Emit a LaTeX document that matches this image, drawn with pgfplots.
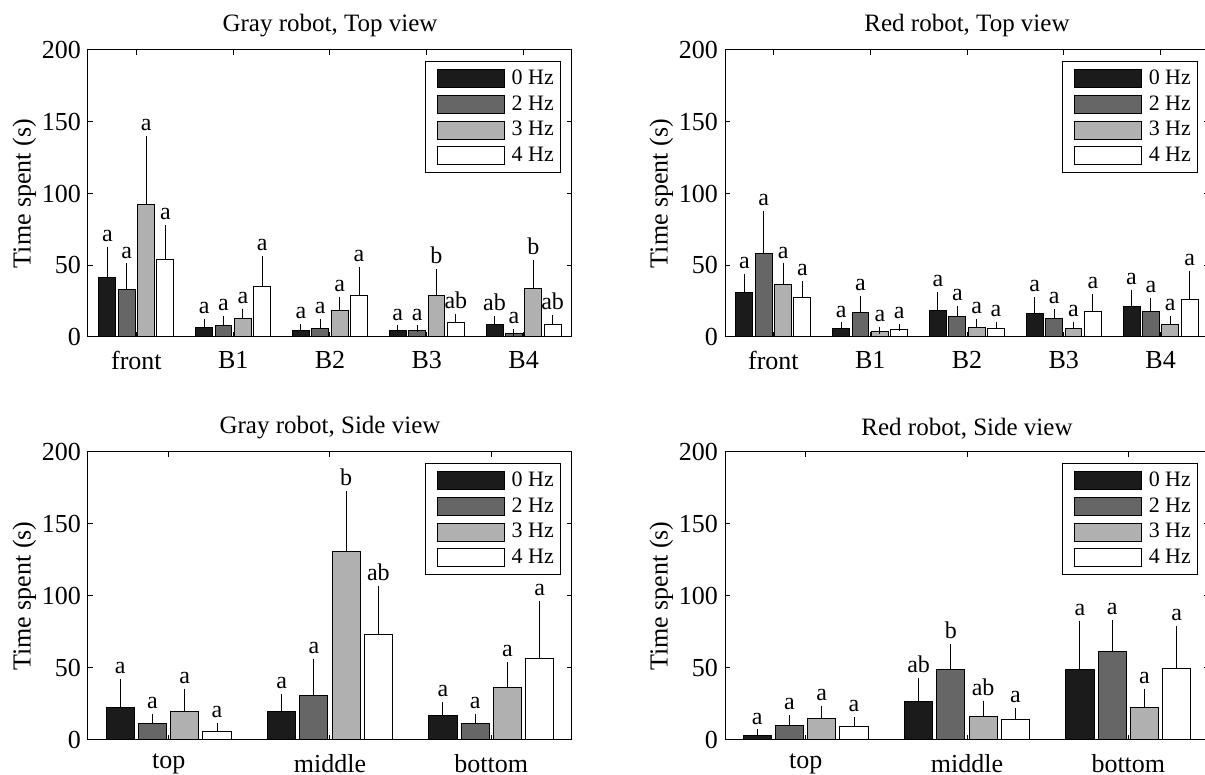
\documentclass[border=0pt]{standalone}
\usepackage{pgfplots}
\usepackage{pgfplotstable}
\usepackage{fontspec}
\setmainfont{Liberation Serif}
\pgfplotsset{compat=1.18}

\definecolor{c0}{HTML}{1B1B1B}
\definecolor{c2}{HTML}{666666}
\definecolor{c3}{HTML}{B0B0B0}
\definecolor{c4}{HTML}{FFFFFF}

% x  value/top/label for 0, 2, 3, 4 Hz
\pgfplotstableread{
x v0 t0 l0 v2 t2 l2 v3 t3 l3 v4 t4 l4
1 41.3 60.6 a 33.1 49.0 a 92.3 137.6 a 54.0 75.6 a
2 6.6 10.1 a 8.0 12.2 a 13.0 17.6 a 35.1 54.4 a
3 4.4 7.0 a 6.0 10.2 a 18.8 25.8 a 28.8 46.4 a
4 4.2 5.8 a 4.2 5.8 a 28.6 45.1 b 10.0 13.9 ab
5 8.8 12.2 ab 2.5 3.2 a 33.9 51.3 b 9.0 13.0 ab
}\tabTL
\pgfplotstableread{
x v0 t0 l0 v2 t2 l2 v3 t3 l3 v4 t4 l4
1 30.9 42.0 a 58.3 85.7 a 36.7 49.0 a 27.6 36.7 a
2 6.0 7.9 a 16.9 26.5 a 3.5 4.6 a 4.9 6.7 a
3 18.6 29.0 a 14.6 19.3 a 6.5 10.2 a 6.0 8.4 a
4 16.5 25.5 a 13.0 17.4 a 5.6 8.4 a 17.6 27.6 a
5 21.4 30.7 a 17.6 24.9 a 8.4 12.5 a 25.8 43.9 a
}\tabTR
\pgfplotstableread{
x v0 t0 l0 v2 t2 l2 v3 t3 l3 v4 t4 l4
1 22.3 40.0 a 11.4 15.8 a 19.8 33.0 a 5.6 9.5 a
2 19.5 30.0 a 30.7 54.2 a 131.1 170.7 b 73.2 104.9 ab
3 16.7 24.4 a 11.2 15.8 a 36.3 51.9 a 56.5 94.2 a
}\tabBL
\pgfplotstableread{
x v0 t0 l0 v2 t2 l2 v3 t3 l3 v4 t4 l4
1 3.0 5.1 a 9.8 15.1 a 14.9 21.6 a 9.5 13.7 a
2 26.7 40.9 ab 49.3 64.2 b 16.3 24.9 ab 14.0 20.0 a
3 48.8 80.2 a 61.2 80.9 a 22.5 33.3 a 49.7 76.7 a
}\tabBR

\pgfplotsset{
  mylegend/.style={legend image code/.code={\path[draw=none,fill=none] (0pt,0pt) (40pt,0pt);\draw[##1] (5pt,-4.5pt) rectangle (38.5pt,4.5pt);}},
}

% #1 table, #2 column suffix, #3 x offset, #4 fill colour
\newcommand{\series}[4]{%
  \addplot[ybar, bar width=0.175, bar shift=0pt, fill=#4, draw=black, line width=0.5pt,
    mylegend,
    error bars/.cd, y dir=plus, y explicit,
    error bar style={line width=0.5pt, black},
    error mark options={line width=0.5pt, mark size=1.6pt, black}]
    table[x expr=\thisrow{x}#3, y=v#2, y error expr=\thisrow{t#2}-\thisrow{v#2}] {#1};
  \addplot[forget plot, draw=none, mark=none, nodes near coords, point meta=explicit symbolic,
    nodes near coords style={anchor=south, font=\fontsize{12}{14}\selectfont, inner sep=4pt}]
    table[x expr=\thisrow{x}#3, y=t#2, meta=l#2] {#1};
}
\newcommand{\allseries}[1]{%
  \series{#1}{0}{-0.3}{c0}
  \series{#1}{2}{-0.1}{c2}
  \series{#1}{3}{+0.1}{c3}
  \series{#1}{4}{+0.3}{c4}
  \legend{0 Hz, 2 Hz, 3 Hz, 4 Hz}
}

\pgfplotsset{
  panel/.style={
    scale only axis, width=242pt,
    ymin=0, ymax=200, ytick={0,50,100,150,200},
    tick align=inside, tick pos=both, major tick length=2.5pt,
    axis line style={line width=0.5pt},
    every tick/.style={black, line width=0.5pt},
    font=\fontsize{13}{15.6}\selectfont,
    /pgf/number format/assume math mode=true,
    ylabel={Time spent (s)},
    ylabel shift=-4pt,
    xticklabel style={yshift=-3.5pt},
    title style={yshift=-3pt, font=\fontsize{12.5}{15}\selectfont},
    legend style={at={(1,1)}, anchor=north east, xshift=-5.5pt, yshift=-5.5pt,
      font=\fontsize{11}{13}\selectfont, line width=0.5pt, draw=black,
      inner xsep=1.3pt, inner ysep=2.3pt, row sep=0pt},
    legend cell align=left,
  },
  five/.style={xmin=0.5, xmax=5.5, xtick={1,2,3,4,5}, xticklabels={front,B1,B2,B3,B4}, height=143.5pt},
  three/.style={xmin=0.5, xmax=3.5, xtick={1,2,3}, xticklabels={top,middle,bottom}, height=144pt},
}

\begin{document}
\begin{tikzpicture}
\begin{axis}[panel, five, at={(44pt,219pt)}, anchor=south west, title={Gray robot, Top view}]
\allseries{\tabTL}
\end{axis}
\begin{axis}[panel, five, at={(362.5pt,219pt)}, anchor=south west, title={Red robot, Top view}]
\allseries{\tabTR}
\end{axis}
\begin{axis}[panel, three, at={(44pt,17.5pt)}, anchor=south west, title={Gray robot, Side view}]
\allseries{\tabBL}
\end{axis}
\begin{axis}[panel, three, at={(362.5pt,17.5pt)}, anchor=south west, title={Red robot, Side view}]
\allseries{\tabBR}
\end{axis}
\pgfresetboundingbox
\path (0pt,0pt) rectangle (602.5pt,387.5pt);
\end{tikzpicture}
\end{document}
